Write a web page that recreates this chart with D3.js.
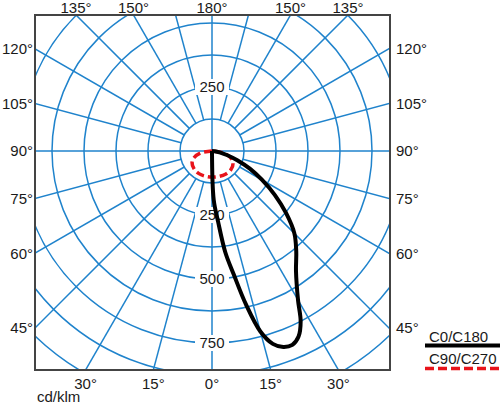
<!DOCTYPE html>
<html>
<head>
<meta charset="utf-8">
<script src="https://cdn.jsdelivr.net/npm/d3@7"></script>
<style>
  body { margin: 0; background: #fff; }
  text { font-family: "Liberation Sans", Arial, sans-serif; fill: #1a1a1a; }
</style>
</head>
<body>
<div id="chart"></div>
<script>
// intensity curves, gamma in degrees from nadir (positive = right side), values in cd/klm
var c0Gamma = [0, 2, 5, 7.5, 10, 12.5, 15, 17.5, 20, 22.5, 25, 27.5, 30, 35, 40, 45, 50, 55, 60, 65, 70, 75, 80, 85, 90];
var c0Value = [0, 190, 280, 400, 490, 615, 730, 790, 815, 820, 800, 750, 672, 572, 512, 455, 378, 300, 226, 163, 105, 60, 30, 10, 0];

var c90Gamma = [-90, -80, -70, -60, -45, -30, -15, 0, 15, 30, 45, 60, 70, 80, 90];
var c90Value = [0, 46, 74, 90, 99, 102, 102, 102, 103, 105, 104, 95, 78, 47, 0];

// grid
var ringValues = [125, 250, 375, 500, 625, 750, 875, 1000];
var ringLabelsUp = [250];
var ringLabelsDown = [250, 500, 750];
var spokeAngles = d3.range(0, 360, 15);

// angle tick labels round the frame
var leftTicks = [120, 105, 90, 75, 60, 45];
var topTicks = [135, 150, 180];
var bottomTicks = [0, 15, 30];

var seriesNames = ["C0/C180", "C90/C270"];
var unitLabel = "cd/klm";

function init() {
    var w = 500, h = 406;
    var cx = 212, cy = 151; // pole of the diagram
    var box = {x0: 35, y0: 15, x1: 390, y1: 370}; // frame
    var blue = "#1f83cc";

    var r = d3.scaleLinear().domain([0, 1000]).range([0, 256]);

    var svg = d3.select("#chart").append("svg")
        .attr("width", w)
        .attr("height", h);

    svg.append("clipPath").attr("id", "frame")
        .append("rect")
        .attr("x", box.x0).attr("y", box.y0)
        .attr("width", box.x1 - box.x0).attr("height", box.y1 - box.y0);

    var grid = svg.append("g")
        .attr("clip-path", "url(#frame)")
        .append("g")
        .attr("transform", `translate(${cx},${cy})`);

    grid.selectAll("circle.ring")
        .data(ringValues)
        .enter().append("circle")
        .attr("class", "ring")
        .attr("r", function(d) { return r(d); })
        .attr("fill", "none")
        .attr("stroke", blue)
        .attr("stroke-width", 1.5);

    // spokes start on the first ring, the four axes run through the pole
    grid.selectAll("line.spoke")
        .data(spokeAngles)
        .enter().append("line")
        .attr("class", "spoke")
        .attr("x1", function(d) { var r0 = d % 90 == 0 ? 0 : r(ringValues[0]); return r0 * Math.sin(d * Math.PI / 180); })
        .attr("y1", function(d) { var r0 = d % 90 == 0 ? 0 : r(ringValues[0]); return r0 * Math.cos(d * Math.PI / 180); })
        .attr("x2", function(d) { return 500 * Math.sin(d * Math.PI / 180); })
        .attr("y2", function(d) { return 500 * Math.cos(d * Math.PI / 180); })
        .attr("stroke", blue)
        .attr("stroke-width", 1.5);

    // ring value labels on the vertical axis
    var ringLab = grid.selectAll("g.ringlab")
        .data(ringLabelsUp.map(function(v) { return {v: v, s: -1}; })
            .concat(ringLabelsDown.map(function(v) { return {v: v, s: 1}; })))
        .enter().append("g")
        .attr("class", "ringlab")
        .attr("transform", function(d) { return `translate(0,${d.s * r(d.v)})`; });
    ringLab.append("rect")
        .attr("x", -17).attr("y", -8).attr("width", 34).attr("height", 16)
        .attr("fill", "#fff");
    ringLab.append("text")
        .attr("text-anchor", "middle")
        .attr("dy", "0.36em")
        .attr("font-size", 15)
        .text(function(d) { return d.v; });

    svg.append("rect")
        .attr("x", box.x0).attr("y", box.y0)
        .attr("width", box.x1 - box.x0).attr("height", box.y1 - box.y0)
        .attr("fill", "none")
        .attr("stroke", "#444")
        .attr("stroke-width", 2);

    // curves
    var radial = d3.lineRadial()
        .angle(function(d) { return Math.PI - d[0] * Math.PI / 180; })
        .radius(function(d) { return r(d[1]); })
        .curve(d3.curveCatmullRom.alpha(0.5));

    var plot = svg.append("g").attr("transform", `translate(${cx},${cy})`);

    plot.append("path")
        .datum(d3.zip(c90Gamma, c90Value))
        .attr("d", radial)
        .attr("fill", "none")
        .attr("stroke", "#e8141b")
        .attr("stroke-width", 3.5)
        .attr("stroke-dasharray", "8,4");

    plot.append("path")
        .datum(d3.zip(c0Gamma, c0Value))
        .attr("d", radial)
        .attr("fill", "none")
        .attr("stroke", "#000")
        .attr("stroke-width", 4)
        .attr("stroke-linejoin", "round");

    // angle labels where the spokes meet the frame
    var rad = function(a) { return a * Math.PI / 180; };
    leftTicks.forEach(function(a) {
        var y = cy + (cx - box.x0) / Math.tan(rad(a));
        svg.append("text").attr("x", 33).attr("y", y).attr("dy", "0.36em")
            .attr("text-anchor", "end").attr("font-size", 15).text(a + "°");
        svg.append("text").attr("x", 396).attr("y", y).attr("dy", "0.36em")
            .attr("text-anchor", "start").attr("font-size", 15).text(a + "°");
    });
    topTicks.forEach(function(a) {
        var dx = (cy - box.y0) * Math.tan(rad(180 - a));
        [-1, 1].forEach(function(s) {
            if (a == 180 && s == 1) return;
            svg.append("text").attr("x", cx + s * dx).attr("y", 13).attr("font-size", 15)
                .attr("text-anchor", "middle").text(a + "°");
        });
    });
    bottomTicks.forEach(function(a) {
        var dx = (box.y1 - cy) * Math.tan(rad(a));
        [-1, 1].forEach(function(s) {
            if (a == 0 && s == 1) return;
            svg.append("text").attr("x", cx + s * dx).attr("y", 384).attr("dy", "0.36em")
                .attr("text-anchor", "middle").attr("font-size", 15).text(a + "°");
        });
    });

    svg.append("text").attr("x", 37).attr("y", 402)
        .attr("font-size", 15).text(unitLabel);

    // legend
    svg.append("text").attr("x", 429).attr("y", 342).attr("font-size", 15).text(seriesNames[0]);
    svg.append("line").attr("x1", 425).attr("x2", 500).attr("y1", 345.5).attr("y2", 345.5)
        .attr("stroke", "#000").attr("stroke-width", 4);
    svg.append("text").attr("x", 429).attr("y", 364).attr("font-size", 15).text(seriesNames[1]);
    svg.append("line").attr("x1", 425).attr("x2", 500).attr("y1", 368.5).attr("y2", 368.5)
        .attr("stroke", "#e8141b").attr("stroke-width", 3.5).attr("stroke-dasharray", "9,4");
}
window.onload = init;
</script>
</body>
</html>
